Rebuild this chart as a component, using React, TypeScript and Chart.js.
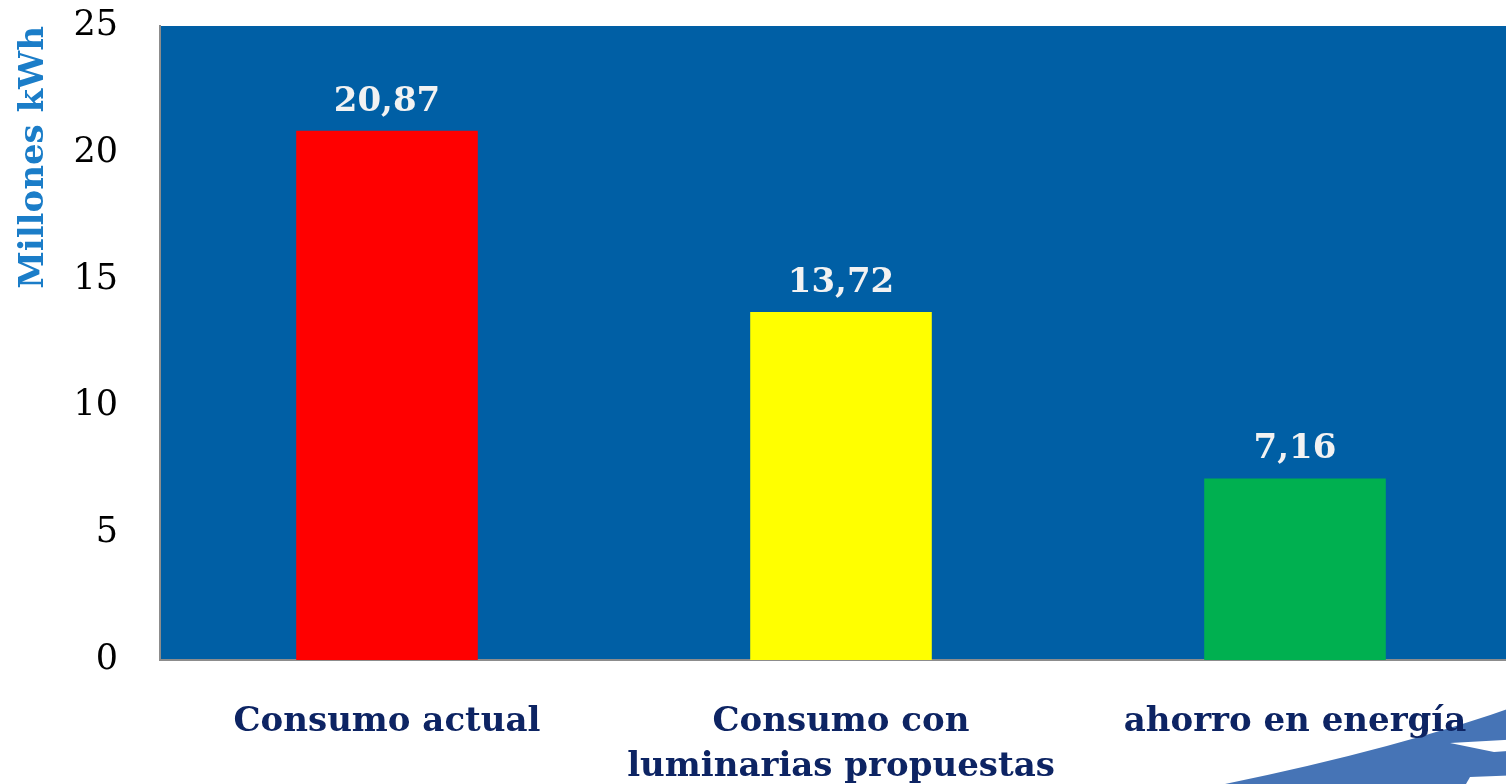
import React, { useEffect, useRef } from "react";
import { Chart, registerables } from "chart.js";

Chart.register(...registerables);

const categories: (string | string[])[] = [
  "Consumo actual",
  ["Consumo con", "luminarias propuestas"],
  "ahorro en energía",
];
const values: number[] = [20.87, 13.72, 7.16];
const valueLabels: string[] = ["20,87", "13,72", "7,16"];
const barColors: string[] = ["#FF0000", "#FFFF00", "#00B050"];
const yTicks: number[] = [0, 5, 10, 15, 20, 25];

const SERIF = "'DejaVu Serif', serif";

// Blue plot background behind the bars plus the corner swoosh
const backdrop = {
  id: "backdrop",
  beforeDraw(chart: any) {
    const { ctx, chartArea } = chart;
    ctx.save();
    ctx.fillStyle = "#005FA5";
    ctx.fillRect(chartArea.left, chartArea.top, chartArea.right - chartArea.left, chartArea.bottom - chartArea.top);

    // decorative swoosh, lower right corner
    ctx.fillStyle = "#4674B6";
    ctx.beginPath();
    ctx.moveTo(1225, 784);
    ctx.quadraticCurveTo(1400, 748, 1522, 704);
    ctx.lineTo(1522, 784);
    ctx.closePath();
    ctx.fill();
    ctx.fillStyle = "#FFFFFF";
    ctx.beginPath();
    ctx.moveTo(1450, 743);
    ctx.lineTo(1522, 739);
    ctx.lineTo(1522, 750);
    ctx.lineTo(1494, 752);
    ctx.closePath();
    ctx.fill();
    ctx.beginPath();
    ctx.moveTo(1466, 784);
    ctx.lineTo(1470, 777);
    ctx.lineTo(1522, 775);
    ctx.lineTo(1522, 784);
    ctx.closePath();
    ctx.fill();
    ctx.restore();
  },
};

// Value labels above each bar
const valueTags = {
  id: "valueTags",
  afterDatasetsDraw(chart: any) {
    const { ctx } = chart;
    const meta = chart.getDatasetMeta(0);
    ctx.save();
    ctx.font = `bold 34px ${SERIF}`;
    ctx.fillStyle = "#F2F2F2";
    ctx.textAlign = "center";
    ctx.textBaseline = "alphabetic";
    meta.data.forEach((bar: any, i: number) => {
      ctx.fillText(valueLabels[i], bar.x, bar.y - 20);
    });
    ctx.restore();
  },
};

export default function App() {
  const canvasRef = useRef<HTMLCanvasElement | null>(null);

  useEffect(() => {
    if (!canvasRef.current) return;
    const chart = new Chart(canvasRef.current, {
      type: "bar",
      data: {
        labels: categories as any,
        datasets: [
          {
            data: values,
            backgroundColor: barColors,
            barPercentage: 0.4,
            categoryPercentage: 1,
          },
        ],
      },
      options: {
        responsive: false,
        animation: false,
        layout: { padding: { top: 26, right: 0, left: 0, bottom: 0 } },
        plugins: {
          legend: { display: false },
          tooltip: { enabled: false },
        },
        scales: {
          x: {
            grid: { display: false, drawTicks: false },
            border: { display: true, color: "#8C8C8C", width: 2 },
            ticks: {
              color: "#0D2463",
              font: { family: SERIF, size: 34, weight: "bold", lineHeight: 1.32 },
              padding: 40,
              maxRotation: 0,
              autoSkip: false,
            },
            afterFit(scale: any) {
              scale.height = 124;
            },
          },
          y: {
            min: 0,
            max: 25,
            afterBuildTicks(scale: any) {
              scale.ticks = yTicks.map((v) => ({ value: v }));
            },
            grid: { display: false, drawTicks: false },
            border: { display: true, color: "#8C8C8C", width: 2 },
            ticks: {
              color: "#000000",
              font: { family: SERIF, size: 35 },
              padding: 42,
            },
            title: {
              display: true,
              text: "Millones kWh",
              align: "end",
              color: "#1B7DC8",
              font: { family: SERIF, size: 34, weight: "bold" },
              padding: { top: 14, bottom: 0 },
            },
            afterFit(scale: any) {
              scale.width = 160;
              // the plot area edges are fixed by the layout padding
              scale.paddingTop = 0;
              scale.paddingBottom = 0;
            },
          },
        },
      },
      plugins: [backdrop, valueTags],
    });
    return () => chart.destroy();
  }, []);

  return (
    <div
      style={{
        position: "fixed",
        left: 0,
        top: 0,
        width: 1506,
        height: 784,
        overflow: "hidden",
        background: "#FFFFFF",
      }}
    >
      <canvas ref={canvasRef} width={1522} height={784} style={{ display: "block" }} />
    </div>
  );
}
